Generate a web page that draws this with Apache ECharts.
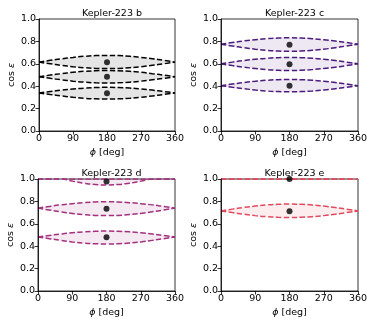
<!DOCTYPE html>
<html>
<head>
<meta charset="utf-8">
<script src="https://cdn.jsdelivr.net/npm/echarts@6/dist/echarts.min.js"></script>
<style>
  html, body { margin: 0; padding: 0; background: #fff; }
  #chart { width: 374px; height: 327px; }
</style>
</head>
<body>
<div id="chart"></div>
<script>
// phase angle samples [deg]; labels every 90 deg
const phi = [0, 30, 60, 90, 120, 150, 180, 210, 240, 270, 300, 330, 360];

const planets = ['Kepler-223 b', 'Kepler-223 c', 'Kepler-223 d', 'Kepler-223 e'];
const colors = ['#000000', '#4b1a7e', '#a3307e', '#df4a5e'];

// upper / lower edges of each band
const upperB = [
  [0.615, 0.631, 0.645, 0.657, 0.667, 0.673, 0.675, 0.673, 0.667, 0.657, 0.645, 0.631, 0.615],
  [0.485, 0.499, 0.512, 0.524, 0.533, 0.538, 0.540, 0.538, 0.533, 0.524, 0.512, 0.499, 0.485],
  [0.340, 0.353, 0.365, 0.375, 0.383, 0.388, 0.390, 0.388, 0.383, 0.375, 0.365, 0.353, 0.340]
];
const lowerB = [
  [0.615, 0.600, 0.586, 0.574, 0.565, 0.559, 0.557, 0.559, 0.565, 0.574, 0.586, 0.600, 0.615],
  [0.485, 0.470, 0.457, 0.445, 0.436, 0.430, 0.428, 0.430, 0.436, 0.445, 0.457, 0.470, 0.485],
  [0.340, 0.326, 0.313, 0.301, 0.292, 0.287, 0.285, 0.287, 0.292, 0.301, 0.313, 0.326, 0.340]
];
const dotsB = [0.613, 0.485, 0.338];

const upperC = [
  [0.775, 0.790, 0.804, 0.815, 0.824, 0.830, 0.832, 0.830, 0.824, 0.815, 0.804, 0.790, 0.775],
  [0.600, 0.615, 0.629, 0.640, 0.649, 0.655, 0.657, 0.655, 0.649, 0.640, 0.629, 0.615, 0.600],
  [0.405, 0.419, 0.433, 0.444, 0.453, 0.458, 0.460, 0.458, 0.453, 0.444, 0.433, 0.419, 0.405]
];
const lowerC = [
  [0.775, 0.759, 0.744, 0.730, 0.720, 0.714, 0.712, 0.714, 0.720, 0.730, 0.744, 0.759, 0.775],
  [0.600, 0.584, 0.570, 0.558, 0.548, 0.542, 0.540, 0.542, 0.548, 0.558, 0.570, 0.584, 0.600],
  [0.405, 0.391, 0.378, 0.366, 0.357, 0.352, 0.350, 0.352, 0.357, 0.366, 0.378, 0.391, 0.405]
];
const dotsC = [0.770, 0.595, 0.405];

const upperD = [
  [1.000, 1.000, 1.000, 1.000, 1.000, 1.000, 1.000, 1.000, 1.000, 1.000, 1.000, 1.000, 1.000],
  [0.740, 0.755, 0.769, 0.780, 0.789, 0.795, 0.797, 0.795, 0.789, 0.780, 0.769, 0.755, 0.740],
  [0.483, 0.496, 0.509, 0.520, 0.528, 0.533, 0.535, 0.533, 0.528, 0.520, 0.509, 0.496, 0.483]
];
const lowerD = [
  [1.000, 1.000, 1.000, 0.981, 0.963, 0.951, 0.947, 0.951, 0.963, 0.981, 1.000, 1.000, 1.000],
  [0.740, 0.723, 0.707, 0.693, 0.682, 0.675, 0.673, 0.675, 0.682, 0.693, 0.707, 0.723, 0.740],
  [0.483, 0.467, 0.452, 0.438, 0.428, 0.422, 0.420, 0.422, 0.428, 0.438, 0.452, 0.467, 0.483]
];
const dotsD = [0.977, 0.735, 0.480];

const upperE = [
  [1.000, 1.000, 1.000, 1.000, 1.000, 1.000, 1.000, 1.000, 1.000, 1.000, 1.000, 1.000, 1.000],
  [0.715, 0.731, 0.746, 0.758, 0.768, 0.774, 0.776, 0.774, 0.768, 0.758, 0.746, 0.731, 0.715]
];
const lowerE = [
  [1.000, 1.000, 1.000, 1.000, 1.000, 1.000, 1.000, 1.000, 1.000, 1.000, 1.000, 1.000, 1.000],
  [0.715, 0.700, 0.686, 0.673, 0.664, 0.658, 0.656, 0.658, 0.664, 0.673, 0.686, 0.700, 0.715]
];
const dotsE = [1.000, 0.713];

const dotPhi = 180;

const uppers = [upperB, upperC, upperD, upperE];
const lowers = [lowerB, lowerC, lowerD, lowerE];
const dots = [dotsB, dotsC, dotsD, dotsE];

// panel boxes (px)
const boxes = [
  {left: 39, top: 19, width: 136, height: 112},
  {left: 221, top: 19, width: 137, height: 112},
  {left: 38, top: 179, width: 137, height: 112},
  {left: 221, top: 179, width: 137, height: 112}
];

const FONT = 'DejaVu Sans';

function hexAlpha(hex, a) {
  const n = parseInt(hex.slice(1), 16);
  return 'rgba(' + (n >> 16 & 255) + ',' + (n >> 8 & 255) + ',' + (n & 255) + ',' + a + ')';
}

let grids = [], xAxes = [], yAxes = [], titles = [], series = [];
const cats = phi.map(String);
const every90 = idx => phi[idx] % 90 === 0;

boxes.forEach((b, i) => {
  grids.push(Object.assign({show: true, borderColor: '#000', borderWidth: 0.8, backgroundColor: 'transparent'}, b));
  titles.push({
    text: planets[i],
    left: b.left + b.width / 2,
    top: b.top - 15,
    textAlign: 'center',
    textStyle: {fontFamily: FONT, fontSize: 9.5, fontWeight: 'normal', color: '#000'}
  });
  xAxes.push({
    type: 'category', gridIndex: i, data: cats, boundaryGap: false, z: 5,
    name: '{i|ϕ} [deg]', nameLocation: 'middle', nameGap: 17,
    nameTextStyle: {fontFamily: FONT, fontSize: 9.5, color: '#000',
      rich: {i: {fontFamily: FONT, fontStyle: 'italic', fontSize: 9.5, color: '#000'}}},
    axisLine: {show: true, lineStyle: {color: '#000', width: 0.8}},
    axisTick: {show: true, inside: false, length: 3.5, interval: every90,
      lineStyle: {color: '#000', width: 0.8}},
    axisLabel: {fontFamily: FONT, fontSize: 9.5, color: '#000', margin: 3, interval: every90},
    splitLine: {show: false}
  });
  yAxes.push({
    type: 'value', gridIndex: i, min: 0, max: 1, interval: 0.2, z: 5,
    name: 'cos {i|ε}', nameLocation: 'middle', nameGap: 22, nameRotate: 90,
    nameTextStyle: {fontFamily: FONT, fontSize: 9.5, color: '#000',
      rich: {i: {fontFamily: FONT, fontStyle: 'italic', fontSize: 9.5, color: '#000'}}},
    axisLine: {show: true, lineStyle: {color: '#000', width: 0.8}},
    axisTick: {show: true, inside: false, length: 3.5, lineStyle: {color: '#000', width: 0.8}},
    axisLabel: {fontFamily: FONT, fontSize: 9.5, color: '#000', margin: 3,
      formatter: v => v.toFixed(1)},
    splitLine: {show: false}
  });

  const col = colors[i];
  uppers[i].forEach((up, k) => {
    const lo = lowers[i][k];
    const stack = 'band' + i + '_' + k;
    // invisible base at the lower edge, then the band stacked on top of it
    series.push({
      type: 'line', xAxisIndex: i, yAxisIndex: i, stack: stack, smooth: true,
      symbol: 'none', silent: true, lineStyle: {opacity: 0},
      data: lo
    });
    series.push({
      type: 'line', xAxisIndex: i, yAxisIndex: i, stack: stack, smooth: true,
      symbol: 'none', silent: true, lineStyle: {opacity: 0},
      areaStyle: {color: hexAlpha(col, 0.1), opacity: 1},
      data: up.map((v, j) => v - lo[j])
    });
    [up, lo].forEach(edge => {
      series.push({
        type: 'line', xAxisIndex: i, yAxisIndex: i, smooth: true,
        symbol: 'none', silent: true, z: 3,
        lineStyle: {color: col, width: 1.5, type: [5.5, 2.4]},
        data: edge
      });
    });
  });
  series.push({
    type: 'scatter', xAxisIndex: i, yAxisIndex: i, z: 4,
    symbolSize: 6, itemStyle: {color: '#000'},
    data: dots[i].map(v => [String(dotPhi), v])
  });
});

const chart = echarts.init(document.getElementById('chart'), null, {renderer: 'canvas'});
chart.setOption({
  animation: false,
  backgroundColor: '#fff',
  title: titles,
  grid: grids,
  xAxis: xAxes,
  yAxis: yAxes,
  series: series
});
</script>
</body>
</html>
